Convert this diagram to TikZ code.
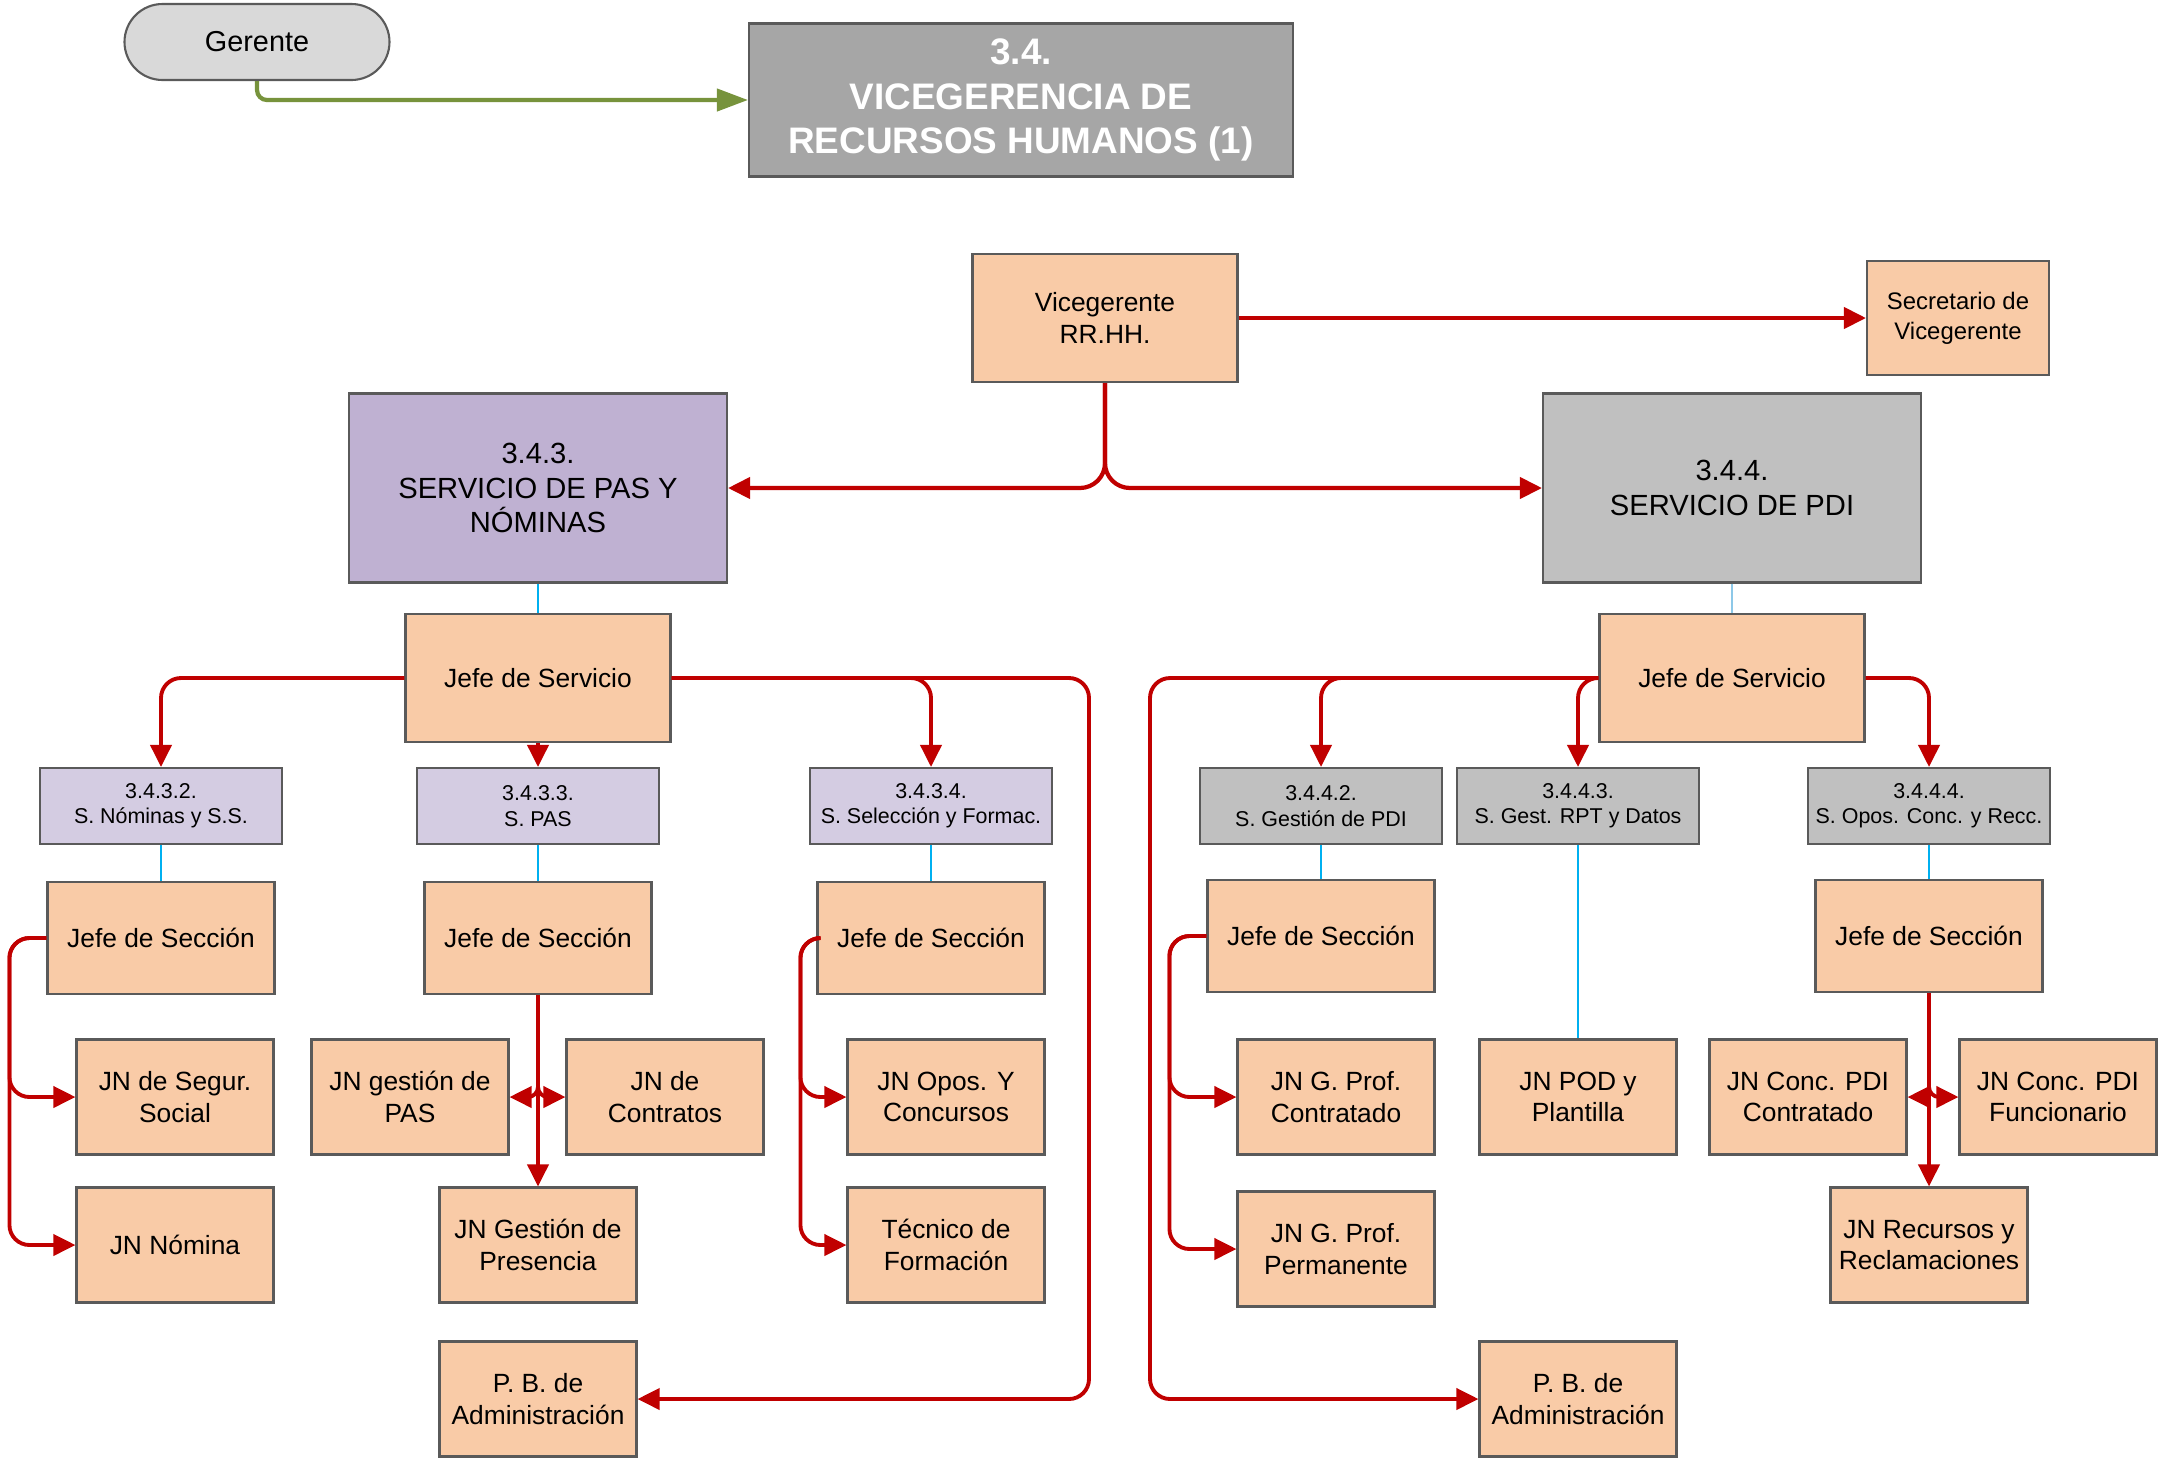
\documentclass[tikz,border=0pt]{standalone}
\usepackage{fontspec}
\setmainfont{Liberation Sans}
\usepackage{tikz}
\usetikzlibrary{arrows.meta}
\usetikzlibrary{positioning}

\definecolor{peach}{HTML}{F9CBA7}
\definecolor{lilac}{HTML}{BFB1D2}
\definecolor{lilaclight}{HTML}{D4CCE2}
\definecolor{silver}{HTML}{C0C0C0}
\definecolor{titlegray}{HTML}{A6A6A6}
\definecolor{pillgray}{HTML}{D9D9D9}
\definecolor{boxline}{HTML}{5A5A5A}
\definecolor{linkred}{HTML}{C00000}
\definecolor{linkgreen}{HTML}{77933C}
\definecolor{linkblue}{HTML}{00B0F0}
\definecolor{linkpale}{HTML}{8DC8E8}

\newcommand{\boxtext}{\fontsize{7.5}{9}\selectfont}
\newcommand{\subtext}{\fontsize{6.1}{7.2}\selectfont}
\newcommand{\headtext}{\fontsize{8.3}{9.8}\selectfont}
\newcommand{\secrtext}{\fontsize{6.8}{8.5}\selectfont}
\newcommand{\pilltext}{\fontsize{8.2}{9.8}\selectfont}
\newcommand{\toptext}{\fontsize{10.5}{12.6}\selectfont\bfseries}

\tikzset{
  orgbox/.style={draw=boxline, line width=0.6pt, fill=peach, inner sep=0pt,
    align=center, font=\boxtext},
  jefebox/.style={orgbox, minimum width=2.65cm, minimum height=1.28cm},
  seccbox/.style={orgbox, minimum width=2.27cm, minimum height=1.12cm},
  jnbox/.style={orgbox, minimum width=1.97cm, minimum height=1.15cm},
  subbox/.style={orgbox, minimum width=2.42cm, minimum height=0.76cm, font=\subtext},
  servbox/.style={orgbox, minimum width=3.78cm, minimum height=1.89cm, font=\headtext},
  redlink/.style={color=linkred, line width=1.1pt, rounded corners=2mm},
  greenlink/.style={color=linkgreen, line width=1.2pt, rounded corners=1mm,
    >={Triangle[length=3.1mm,width=2.2mm]}},
  bluelink/.style={color=linkblue, line width=0.5pt},
  hv/.style={to path={-| (\tikztotarget)}},
  vh/.style={to path={|- (\tikztotarget)}},
  rail/.style={to path={-- ++(#1,0) |- (\tikztotarget)}},
  via/.style={to path={-| (#1) -- (\tikztotarget)}}
}

\begin{document}
\begin{tikzpicture}[>={Triangle[length=2.2mm,width=2.1mm]},
      node distance=15mm,
      on grid]

    \useasboundingbox (0,0) rectangle (21.59,-14.57);

    \node[orgbox, fill=pillgray, rounded corners=3.8mm, minimum width=2.65cm,
          minimum height=0.76cm, font=\pilltext]
      (Gerente) at (2.57,-0.42) {Gerente};
    \node[orgbox, fill=titlegray, text=white, minimum width=5.44cm,
          minimum height=1.53cm, font=\toptext]
      (VGRRHH) at (10.21,-1.00) {3.4.\\VICEGERENCIA DE\\RECURSOS HUMANOS (1)};
    \node[jefebox]
      (Vicegerente) at (11.05,-3.18) {Vicegerente\\RR.HH.};
    \node[orgbox, minimum width=1.82cm, minimum height=1.14cm, font=\secrtext]
      (Secretario) at (19.58,-3.18) {Secretario de\\Vicegerente};
    \node[servbox, fill=lilac]
      (ServPAS) at (5.38,-4.88) {3.4.3.\\SERVICIO DE PAS Y\\NÓMINAS};
    \node[servbox, fill=silver]
      (ServPDI) at (17.32,-4.88) {3.4.4.\\SERVICIO DE PDI};
    \node[jefebox]
      (JefePAS) [below=1.90 of ServPAS] {Jefe de Servicio};
    \node[jefebox]
      (JefePDI) [below=1.90 of ServPDI] {Jefe de Servicio};

    % secciones
    \node[subbox, fill=lilaclight]
      (SNominas) at (1.61,-8.06) {3.4.3.2.\\S. Nóminas y S.S.};
    \node[subbox, fill=lilaclight]
      (SPAS) [below=1.28 of JefePAS] {3.4.3.3.\\S. PAS};
    \node[subbox, fill=lilaclight]
      (SSeleccion) at (9.31,-8.06) {3.4.3.4.\\S. Selección y Formac.};
    \node[subbox, fill=silver]
      (SGestPDI) at (13.21,-8.06) {3.4.4.2.\\S. Gestión de PDI};
    \node[subbox, fill=silver]
      (SRPT) at (15.78,-8.06) {3.4.4.3.\\S. Gest. RPT y Datos};
    \node[subbox, fill=silver]
      (SOpos) at (19.29,-8.06) {3.4.4.4.\\S. Opos. Conc. y Recc.};

    \node[seccbox]
      (JSNominas) [below=1.32 of SNominas] {Jefe de Sección};
    \node[seccbox]
      (JSPAS) [below=1.32 of SPAS] {Jefe de Sección};
    \node[seccbox]
      (JSSeleccion) [below=1.32 of SSeleccion] {Jefe de Sección};
    \node[seccbox]
      (JSGestPDI) [below=1.30 of SGestPDI] {Jefe de Sección};
    \node[seccbox]
      (JSOpos) [below=1.30 of SOpos] {Jefe de Sección};

    % negociados
    \node[jnbox]
      (JNSegur) at (1.75,-10.97) {JN de Segur.\\Social};
    \node[jnbox]
      (JNGestPAS) at (4.10,-10.97) {JN gestión de\\PAS};
    \node[jnbox]
      (JNContratos) at (6.65,-10.97) {JN de\\Contratos};
    \node[jnbox]
      (JNOposConc) at (9.46,-10.97) {JN Opos. Y\\Concursos};
    \node[jnbox]
      (JNProfContr) at (13.36,-10.97) {JN G. Prof.\\Contratado};
    \node[jnbox]
      (JNPOD) [below=2.91 of SRPT] {JN POD y\\Plantilla};
    \node[jnbox]
      (JNConcContr) at (18.08,-10.97) {JN Conc. PDI\\Contratado};
    \node[jnbox]
      (JNConcFunc) at (20.58,-10.97) {JN Conc. PDI\\Funcionario};

    \node[jnbox]
      (JNNomina) [below=1.48 of JNSegur] {JN Nómina};
    \node[jnbox]
      (JNPresencia) [below=3.07 of JSPAS] {JN Gestión de\\Presencia};
    \node[jnbox]
      (TecFormacion) [below=1.48 of JNOposConc] {Técnico de\\Formación};
    \node[jnbox]
      (JNProfPerm) [below=1.52 of JNProfContr] {JN G. Prof.\\Permanente};
    \node[jnbox]
      (JNRecursos) [below=3.09 of JSOpos] {JN Recursos y\\Reclamaciones};

    \node[jnbox]
      (PBPAS) [below=1.54 of JNPresencia] {P. B. de\\Administración};
    \node[jnbox]
      (PBPDI) [below=3.02 of JNPOD] {P. B. de\\Administración};

    \coordinate (RailPAS) at (10.89,-13.99);
    \coordinate (RailPDI) at (11.50,-13.99);

    \path[->, greenlink]
      (Gerente.south) edge[vh] (VGRRHH.west);

    \path[->, redlink, line width=1.2pt, rounded corners=2.5mm]
      (Vicegerente.east) edge (Secretario.west)
      (Vicegerente.south) edge[vh] (ServPAS.east)
      (Vicegerente.south) edge[vh] (ServPDI.west);

    \path[->, redlink]
      (JefePAS.west) edge[hv] (SNominas.north)
      (JefePAS.south) edge (SPAS.north)
      (JefePAS.east) edge[hv] (SSeleccion.north)
      (JefePAS.east) edge[via=RailPAS] (PBPAS.east)
      (JefePDI.west) edge[hv] (SGestPDI.north)
      (JefePDI.west) edge[hv] (SRPT.north)
      (JefePDI.west) edge[via=RailPDI] (PBPDI.west)
      (JefePDI.east) edge[hv] (SOpos.north)
      (JSNominas.west) edge[rail=-0.37] (JNSegur.west)
      (JSNominas.west) edge[rail=-0.37] (JNNomina.west)
      (JSPAS.south) edge[vh, rounded corners=1mm] (JNGestPAS.east)
      (JSPAS.south) edge[vh, rounded corners=1mm] (JNContratos.west)
      (JSPAS.south) edge (JNPresencia.north)
      (JSSeleccion.west) edge[rail=-0.16] (JNOposConc.west)
      (JSSeleccion.west) edge[rail=-0.16] (TecFormacion.west)
      (JSGestPDI.west) edge[rail=-0.37] (JNProfContr.west)
      (JSGestPDI.west) edge[rail=-0.37] (JNProfPerm.west)
      (JSOpos.south) edge[vh, rounded corners=1mm] (JNConcContr.east)
      (JSOpos.south) edge[vh, rounded corners=1mm] (JNConcFunc.west)
      (JSOpos.south) edge (JNRecursos.north);

    \path[bluelink]
      (ServPAS) edge (JefePAS)
      (SNominas) edge (JSNominas)
      (SPAS) edge (JSPAS)
      (SSeleccion) edge (JSSeleccion)
      (SGestPDI) edge (JSGestPDI)
      (SOpos) edge (JSOpos)
      (SRPT) edge (JNPOD);
    \path[bluelink, color=linkpale]
      (ServPDI) edge (JefePDI);

  \end{tikzpicture}
\end{document}
